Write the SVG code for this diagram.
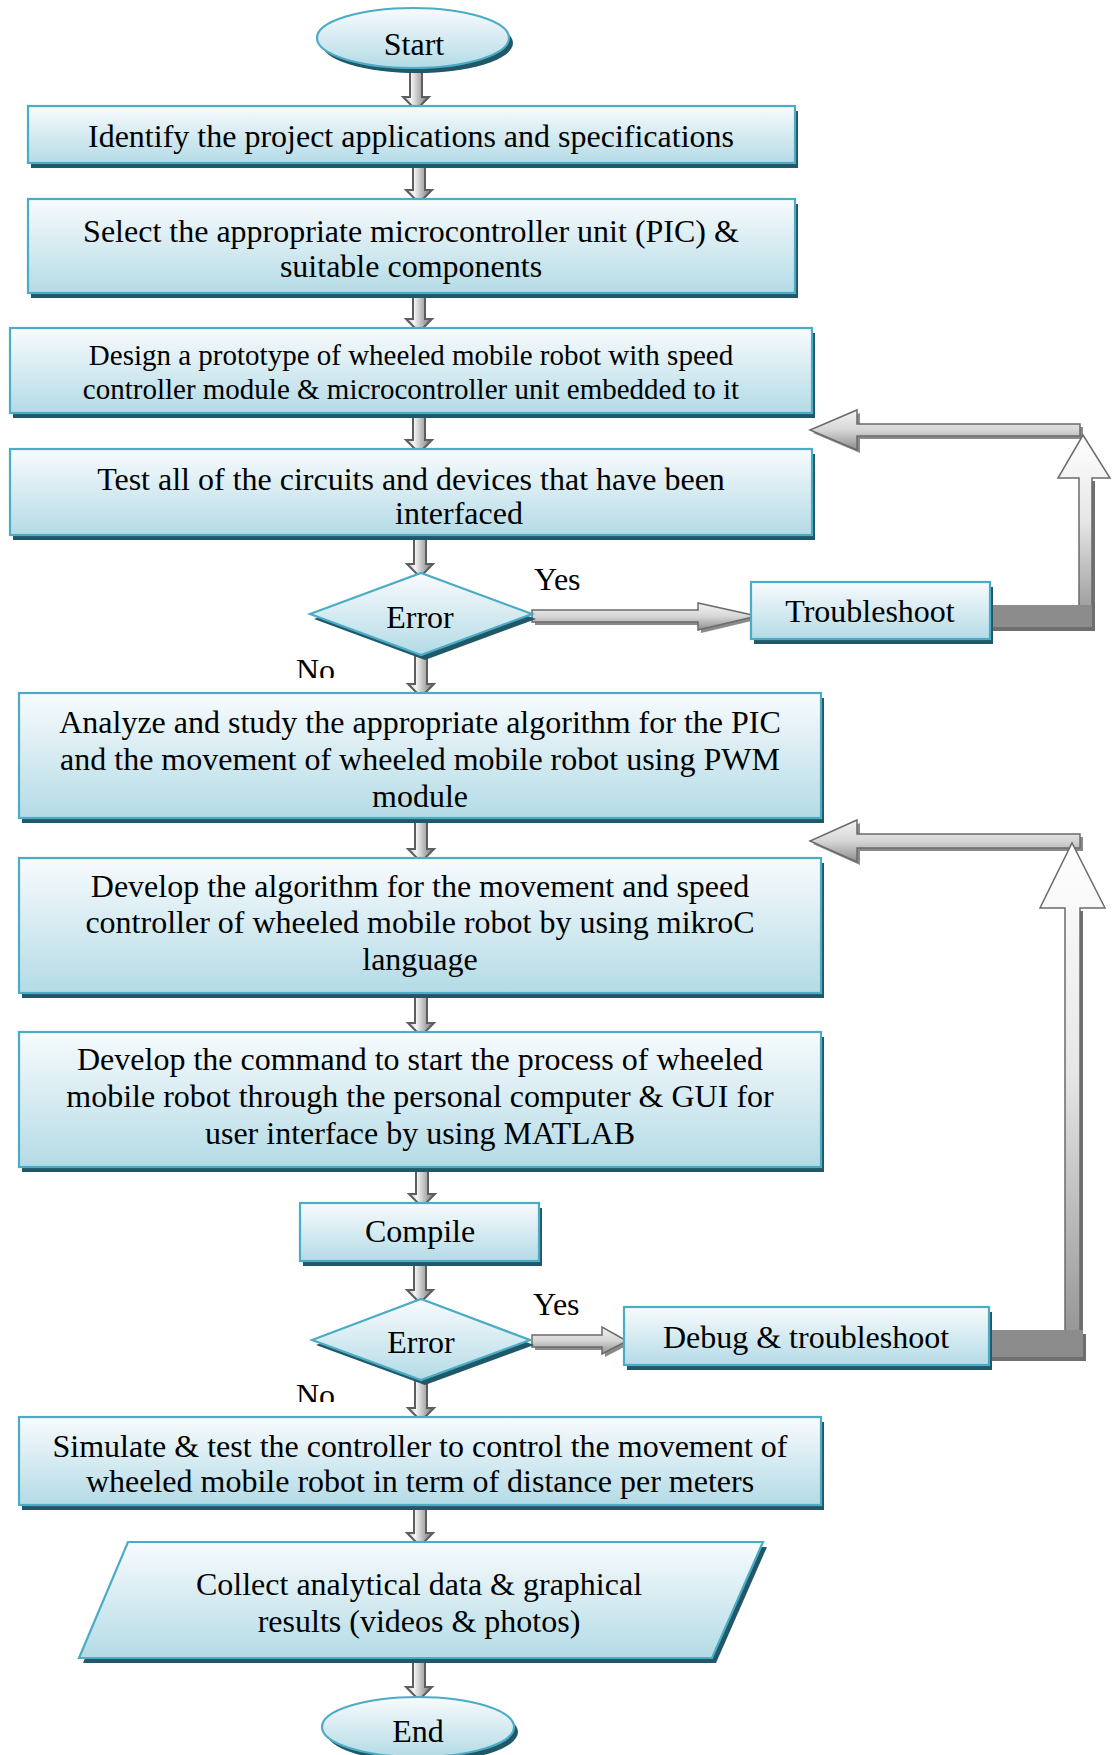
<svg xmlns="http://www.w3.org/2000/svg" width="1114" height="1755" viewBox="0 0 1114 1755">
<defs>
  <linearGradient id="nodeFill" x1="0" y1="0" x2="0" y2="1">
    <stop offset="0" stop-color="#f8fbfd"/>
    <stop offset="1" stop-color="#b4dbe6"/>
  </linearGradient>
  <linearGradient id="downFill" x1="0" y1="0" x2="1" y2="0">
    <stop offset="0" stop-color="#b8b8b8"/>
    <stop offset="0.3" stop-color="#f6f6f6"/>
    <stop offset="1" stop-color="#6e6e6e"/>
  </linearGradient>
  <linearGradient id="horizFill" x1="0" y1="0" x2="0" y2="1">
    <stop offset="0" stop-color="#f4f4f4"/>
    <stop offset="0.5" stop-color="#d6d6d6"/>
    <stop offset="1" stop-color="#8e8e8e"/>
  </linearGradient>
  <linearGradient id="upFill" x1="0" y1="0" x2="0" y2="1">
    <stop offset="0" stop-color="#ffffff"/>
    <stop offset="0.45" stop-color="#e6e6e6"/>
    <stop offset="1" stop-color="#8f8f8f"/>
  </linearGradient>
  <clipPath id="clipNo1"><rect x="280" y="640" width="80" height="38"/></clipPath>
  <clipPath id="clipNo2"><rect x="280" y="1365" width="80" height="37"/></clipPath>
</defs>
<style>
  .shadow { fill: #215868; }
  .node { fill: url(#nodeFill); stroke: #4bacc6; stroke-width: 2.2; }
  .txt { font-family: "Liberation Serif", "Times New Roman", serif; font-size: 32px; fill: #000; text-anchor: middle; }
  .small { font-size: 29px; }
  .lbl { font-family: "Liberation Serif", "Times New Roman", serif; font-size: 32px; fill: #000; }
  .down { fill: url(#downFill); stroke: #5e5e5e; stroke-width: 2; }
  .horiz { fill: url(#horizFill); stroke: #6b6b6b; stroke-width: 1.5; }
  .hshadow { fill: #8a8a8a; }
  .up { fill: url(#upFill); stroke: #6b6b6b; stroke-width: 1.5; }
  .bar { fill: #8c8c8c; }
  .barshadow { fill: #6f6f6f; }
</style>

<g id="connectors">
  <!-- vertical flow arrows -->
  <polygon class="down" points="410,70 422,70 422,97 429,97 416,110 403,97 410,97"/>
  <polygon class="down" points="413,166 425,166 425,190 432,190 419,203 406,190 413,190"/>
  <polygon class="down" points="413,296 425,296 425,319 432,319 419,332 406,319 413,319"/>
  <polygon class="down" points="413,416 425,416 425,440 432,440 419,453 406,440 413,440"/>
  <polygon class="down" points="414,538 426,538 426,564 433,564 420,577 407,564 414,564"/>
  <polygon class="down" points="415,656 427,656 427,684 434,684 421,697 408,684 415,684"/>
  <polygon class="down" points="415,821 427,821 427,849 434,849 421,862 408,849 415,849"/>
  <polygon class="down" points="415,996 427,996 427,1023 434,1023 421,1036 408,1023 415,1023"/>
  <polygon class="down" points="416,1170 428,1170 428,1194 435,1194 422,1207 409,1194 416,1194"/>
  <polygon class="down" points="414,1264 426,1264 426,1290 433,1290 420,1303 407,1290 414,1290"/>
  <polygon class="down" points="415,1381 427,1381 427,1408 434,1408 421,1421 408,1408 415,1408"/>
  <polygon class="down" points="414,1508 426,1508 426,1533 433,1533 420,1546 407,1533 414,1533"/>
  <polygon class="down" points="413,1661 425,1661 425,1687 432,1687 419,1700 406,1687 413,1687"/>

  <!-- Yes arrows -->
  <polygon class="hshadow" points="535,613 701,613 701,606 760,619 701,633 701,625 535,625"/>
  <polygon class="horiz" points="532,610 698,610 698,603 757,616 698,630 698,622 532,622"/>
  <polygon class="hshadow" points="535,1338 605,1338 605,1330 630,1344 605,1357 605,1350 535,1350"/>
  <polygon class="horiz" points="532,1335 602,1335 602,1327 627,1341 602,1354 602,1347 532,1347"/>

  <!-- feedback loop 1 (Troubleshoot) -->
  <polygon class="hshadow" points="1083,427 860,427 860,413 813,433 860,453 860,439 1083,439"/>
  <polygon class="horiz" points="1080,424 857,424 857,410 810,430 857,450 857,436 1080,436"/>
  <rect class="barshadow" x="1082" y="481" width="13" height="150"/>
  <polygon class="up" points="1079,627 1079,478 1058,478 1083,435 1110,478 1092,478 1092,627"/>
  <rect class="barshadow" x="993" y="609" width="102" height="22"/>
  <rect class="bar" x="990" y="605" width="102" height="22"/>

  <!-- feedback loop 2 (Debug) -->
  <polygon class="hshadow" points="1083,837 860,837 860,823 813,844 860,865 860,851 1083,851"/>
  <polygon class="horiz" points="1080,834 857,834 857,820 810,841 857,862 857,848 1080,848"/>
  <rect class="barshadow" x="1068" y="911" width="15" height="450"/>
  <polygon class="up" points="1065,1357 1065,908 1040,908 1072,843 1105,908 1080,908 1080,1357"/>
  <rect class="barshadow" x="992" y="1334" width="94" height="27"/>
  <rect class="bar" x="989" y="1330" width="94" height="27"/>
</g>

<g id="start">
  <ellipse class="shadow" cx="417" cy="43" rx="96" ry="30"/>
  <ellipse class="node" cx="413" cy="38" rx="96" ry="30"/>
  <text class="txt" x="414" y="55">Start</text>
</g>

<g id="identify">
  <rect class="shadow" x="31" y="111" width="767" height="57"/>
  <rect class="node" x="28" y="106" width="767" height="57"/>
  <text class="txt" x="411" y="147">Identify the project applications and specifications</text>
</g>

<g id="select">
  <rect class="shadow" x="31" y="204" width="767" height="94"/>
  <rect class="node" x="28" y="199" width="767" height="94"/>
  <text class="txt" x="411" y="242">Select the appropriate microcontroller unit (PIC) &amp;</text>
  <text class="txt" x="411" y="277">suitable components</text>
</g>

<g id="design">
  <rect class="shadow" x="13" y="333" width="802" height="85"/>
  <rect class="node" x="10" y="328" width="802" height="85"/>
  <text class="txt small" x="411" y="365">Design a prototype of wheeled mobile robot with speed</text>
  <text class="txt small" x="411" y="399">controller module &amp; microcontroller unit embedded to it</text>
</g>

<g id="test">
  <rect class="shadow" x="13" y="454" width="802" height="86"/>
  <rect class="node" x="10" y="449" width="802" height="86"/>
  <text class="txt" x="411" y="490">Test all of the circuits and devices that have been</text>
  <text class="txt" x="459" y="524">interfaced</text>
</g>

<g id="error1">
  <polygon class="shadow" points="314,619 425,578 536,619 425,660"/>
  <polygon class="node" points="310,614 421,573 532,614 421,655"/>
  <text class="txt" x="420" y="628">Error</text>
  <text class="lbl" x="534" y="590">Yes</text>
  <text class="lbl" x="296" y="681" clip-path="url(#clipNo1)">No</text>
</g>

<g id="troubleshoot">
  <rect class="shadow" x="754" y="587" width="239" height="57"/>
  <rect class="node" x="751" y="582" width="239" height="57"/>
  <text class="txt" x="870" y="622">Troubleshoot</text>
</g>

<g id="analyze">
  <rect class="shadow" x="22" y="698" width="802" height="125"/>
  <rect class="node" x="19" y="693" width="802" height="125"/>
  <text class="txt" x="420" y="733">Analyze and study the appropriate algorithm for the PIC</text>
  <text class="txt" x="420" y="770">and the movement of wheeled mobile robot using PWM</text>
  <text class="txt" x="420" y="807">module</text>
</g>

<g id="develop-algorithm">
  <rect class="shadow" x="22" y="863" width="802" height="135"/>
  <rect class="node" x="19" y="858" width="802" height="135"/>
  <text class="txt" x="420" y="897">Develop the algorithm for the movement and speed</text>
  <text class="txt" x="420" y="933">controller of wheeled mobile robot by using mikroC</text>
  <text class="txt" x="420" y="970">language</text>
</g>

<g id="develop-command">
  <rect class="shadow" x="22" y="1037" width="802" height="135"/>
  <rect class="node" x="19" y="1032" width="802" height="135"/>
  <text class="txt" x="420" y="1070">Develop the command to start the process of wheeled</text>
  <text class="txt" x="420" y="1107">mobile robot through the personal computer &amp; GUI for</text>
  <text class="txt" x="420" y="1144">user interface by using MATLAB</text>
</g>

<g id="compile">
  <rect class="shadow" x="303" y="1208" width="239" height="58"/>
  <rect class="node" x="300" y="1203" width="239" height="58"/>
  <text class="txt" x="420" y="1242">Compile</text>
</g>

<g id="error2">
  <polygon class="shadow" points="316,1345 425,1304 534,1345 425,1385"/>
  <polygon class="node" points="312,1340 421,1299 530,1340 421,1380"/>
  <text class="txt" x="421" y="1353">Error</text>
  <text class="lbl" x="533" y="1315">Yes</text>
  <text class="lbl" x="296" y="1406" clip-path="url(#clipNo2)">No</text>
</g>

<g id="debug">
  <rect class="shadow" x="627" y="1312" width="365" height="58"/>
  <rect class="node" x="624" y="1307" width="365" height="58"/>
  <text class="txt" x="806" y="1348">Debug &amp; troubleshoot</text>
</g>

<g id="simulate">
  <rect class="shadow" x="22" y="1422" width="802" height="88"/>
  <rect class="node" x="19" y="1417" width="802" height="88"/>
  <text class="txt" x="420" y="1457">Simulate &amp; test the controller to control the movement of</text>
  <text class="txt" x="420" y="1492">wheeled mobile robot in term of distance per meters</text>
</g>

<g id="collect">
  <polygon class="shadow" points="132,1547 767,1547 716,1663 83,1663"/>
  <polygon class="node" points="128,1542 763,1542 712,1658 79,1658"/>
  <text class="txt" x="419" y="1595">Collect analytical data &amp; graphical</text>
  <text class="txt" x="419" y="1632">results (videos &amp; photos)</text>
</g>

<g id="end">
  <ellipse class="shadow" cx="422" cy="1732" rx="96" ry="30"/>
  <ellipse class="node" cx="418" cy="1727" rx="96" ry="30"/>
  <text class="txt" x="418" y="1742">End</text>
</g>
</svg>
